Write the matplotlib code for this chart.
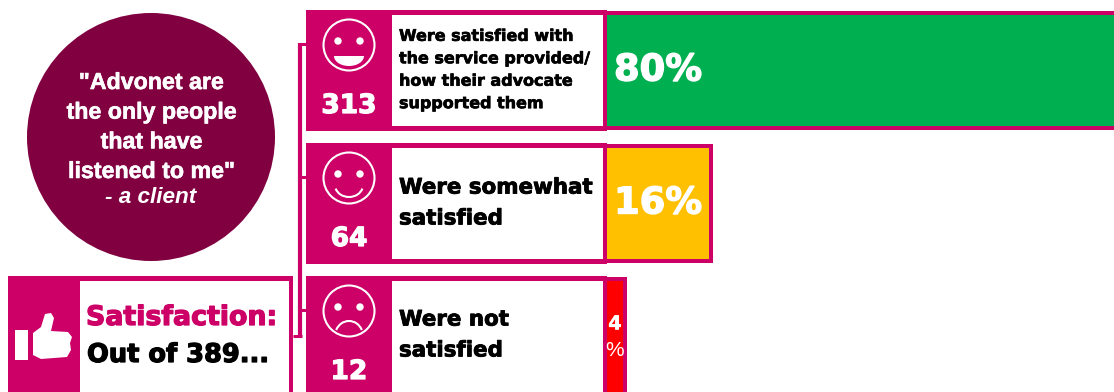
import matplotlib
matplotlib.use("Agg")
import matplotlib.pyplot as plt
import matplotlib.patheffects as pe
from matplotlib.patches import Circle, Polygon, Rectangle, Arc, Ellipse

# Survey results
categories = ["Were satisfied with\nthe service provided/\nhow their advocate\nsupported them",
              "Were somewhat\nsatisfied", "Were not\nsatisfied"]
counts = [313, 64, 12]
percents = [80, 16, 4]
percent_labels = ["80%", "16%", "4\n%"]
bar_colors = ["#00B050", "#FFC000", "#FF0000"]
moods = ["grin", "smile", "frown"]
total = 389
quote = '"Advonet are\nthe only people\nthat have\nlistened to me"'
attribution = "- a client"

W, H = 1114, 392
MAGENTA = "#CC0066"
MAROON = "#800040"
DPI = 100
HEAVY = "DejaVu Sans"

fig = plt.figure(figsize=(W / DPI, H / DPI), dpi=DPI, facecolor="white")

# Row geometry, in figure pixels: top and bottom of the coloured cells
row_top = [15, 148, 281]
row_bot = [126, 259, 397]
FRAME = 5

# Percentage bars live on their own axes, below the panels
PX_PER_PCT = 7.17
ZERO_X = 594.3
bar_ax = fig.add_axes([ZERO_X / W, 0, 1 - ZERO_X / W, 1])
bar_ax.set_xlim(0, (W - ZERO_X) / PX_PER_PCT)
bar_ax.set_ylim(H, 0)
bar_ax.axis("off")
bar_ax.patch.set_alpha(0)
for top, bot, pct, col in zip(row_top, row_bot, percents, bar_colors):
    bar_ax.barh((top + bot) / 2, pct, height=bot - top, color=MAGENTA,
                edgecolor=MAGENTA, linewidth=2 * 4 * 72 / DPI, zorder=1)
    bar_ax.barh((top + bot) / 2, pct, height=bot - top, color=col, linewidth=0, zorder=2)

# Everything else is laid out in figure pixels
ax = fig.add_axes([0, 0, 1, 1], zorder=3)
ax.set_xlim(0, W)
ax.set_ylim(H, 0)
ax.axis("off")
ax.patch.set_alpha(0)


def heavy(x, y, s, size, color, stroke=0.5, **kw):
    kw.setdefault("ha", "left")
    kw.setdefault("va", "center")
    t = ax.text(x, y, s, fontsize=size, color=color, family=HEAVY, weight="bold", **kw)
    t.set_path_effects([pe.withStroke(linewidth=stroke, foreground=color)])
    return t


def face(cx, cy, mood):
    ax.add_patch(Circle((cx, cy), 25.5, fill=False, edgecolor="white", linewidth=1.5))
    for dx in (-11, 11):
        ax.add_patch(Circle((cx + dx, cy - 4), 3.7, color="white", lw=0))
    if mood == "grin":
        # Lower half of an ellipse: the open mouth
        mouth = Ellipse((cx, cy + 11), 30, 20, color="white", lw=0)
        ax.add_patch(mouth)
        mouth.set_clip_path(Rectangle((cx - 16, cy + 11), 32, 12, transform=ax.transData))
    elif mood == "smile":
        ax.add_patch(Arc((cx, cy + 7), 28, 24, theta1=15, theta2=165, color="white", lw=1.5))
    else:
        ax.add_patch(Arc((cx, cy + 25), 28, 30, theta1=205, theta2=335, color="white", lw=1.5))


# Connector linking the summary box to the three rows
vline_x = 299.5
joins = [44, 177, 310]
for y in joins:
    ax.plot([vline_x, 306], [y, y], color=MAGENTA, lw=2.2, solid_capstyle="butt")
ax.plot([vline_x, vline_x], [joins[0] - 1, 337], color=MAGENTA, lw=3, solid_capstyle="butt")
ax.plot([293, vline_x + 2], [336, 336], color=MAGENTA, lw=2.2, solid_capstyle="butt")

# Rows: magenta block, white caption panel, face, count and percentage
for i, (top, bot) in enumerate(zip(row_top, row_bot)):
    ax.add_patch(Rectangle((306, top - FRAME), 301, bot - top + 2 * FRAME,
                           color=MAGENTA, lw=0))
    ax.add_patch(Rectangle((392, top), 211, bot - top, facecolor="white", lw=0))
    face(349, top + 30, moods[i])
    heavy(349, top + 91, str(counts[i]), 19, "white", ha="center", stroke=0.9)

heavy(399, 70, categories[0], 11.5, "black", stroke=0.45, linespacing=1.62)
heavy(399, 203, categories[1], 15.4, "black", stroke=0.6, linespacing=1.68)
heavy(399, 335, categories[2], 15.4, "black", stroke=0.6, linespacing=1.68)

heavy(614, 70, percent_labels[0], 26.5, "white", stroke=1.0)
heavy(658, 203, percent_labels[1], 26.5, "white", stroke=1.0, ha="center")
digit, sign = percent_labels[2].split("\n")
heavy(615, 324, digit, 14, "white", stroke=0.3, ha="center")
ax.text(615, 351, sign, fontsize=15, color="white", family="Liberation Sans",
        ha="center", va="center")

# Quote bubble
ax.add_patch(Circle((151, 137), 124, color=MAROON, lw=0))
quote_text = ax.text(151, 127, quote, fontsize=16.7, color="white", family="Liberation Sans",
                     weight="bold", ha="center", va="center", linespacing=1.37)
quote_text.set_path_effects([pe.withStroke(linewidth=0.4, foreground="white")])
ax.text(151, 197, attribution, fontsize=16.2, color="white", family="Liberation Sans",
        weight="bold", style="italic", ha="center", va="center")

# Summary box
ax.add_patch(Rectangle((8, 276), 285, 125, color=MAGENTA, lw=0))
ax.add_patch(Rectangle((80, 281), 209, 120, facecolor="white", lw=0))
heavy(86, 318, "Satisfaction:", 19.3, MAGENTA, stroke=0.9)
heavy(87, 355, f"Out of {total}...", 18.5, "black", stroke=0.9)

# Thumbs-up icon
ax.add_patch(Rectangle((15, 330), 13, 30, color="white", lw=0))
ax.add_patch(Polygon([(33, 333), (41, 327), (45, 314), (51, 313), (54, 318), (51, 331),
                      (68, 332), (72, 337), (70, 343), (71, 350), (67, 357), (41, 359),
                      (33, 355)], closed=True, color="white", lw=0))

fig.savefig("out.png", dpi=DPI, facecolor="white")
